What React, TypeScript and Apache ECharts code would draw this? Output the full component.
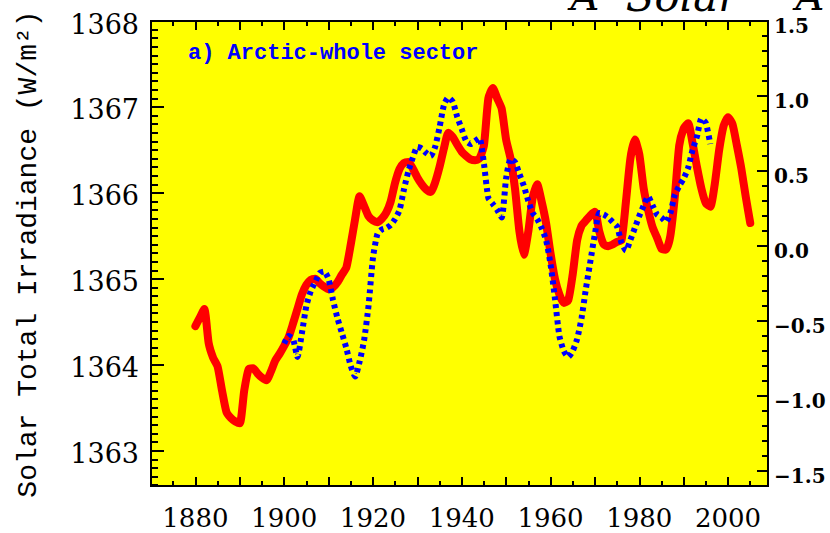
import React, { useEffect, useRef } from "react";
import * as echarts from "echarts";

// ---- axis extents and tick values ----
const X_MIN = 1870;
const X_MAX = 2009;
const LEFT_MIN = 1362.59;
const LEFT_MAX = 1368;
const RIGHT_MIN = -1.6;
const RIGHT_MAX = 1.5;

const xMajorTicks = [1880, 1890, 1900, 1910, 1920, 1930, 1940, 1950, 1960, 1970, 1980, 1990, 2000];
const xLabelValues = [1880, 1900, 1920, 1940, 1960, 1980, 2000];
const xMinorTicks = [1875, 1885, 1895, 1905, 1915, 1925, 1935, 1945, 1955, 1965, 1975, 1985, 1995, 2005];
const leftMajorTicks = [1363, 1364, 1365, 1366, 1367, 1368];
const rightMajorTicks = [-1.5, -1.0, -0.5, 0.0, 0.5, 1.0, 1.5];

function minorSteps(lo: number, hi: number, step: number, skip: number[]): number[] {
  const out: number[] = [];
  const n = Math.round((hi - lo) / step);
  for (let i = 0; i <= n; i++) {
    const v = Math.round((lo + i * step) * 1000) / 1000;
    if (!skip.some((s) => Math.abs(s - v) < 1e-6)) out.push(v);
  }
  return out;
}
const leftMinorTicks = minorSteps(1362.6, 1368, 0.1, leftMajorTicks);
const rightMinorTicks = minorSteps(-1.6, 1.5, 0.1, rightMajorTicks);

// ---- data ----
const redStartYear = 1880;
// Solar total irradiance (W/m^2), annual, 1880-2005
const redValues = [
  1364.45, 1364.55, 1364.65, 1364.25, 1364.08, 1363.98, 1363.70, 1363.45, 1363.38, 1363.34,
  1363.32, 1363.70, 1363.95, 1363.96, 1363.90, 1363.85, 1363.82, 1363.92, 1364.05, 1364.13,
  1364.22, 1364.32, 1364.48, 1364.65, 1364.82, 1364.93, 1364.99, 1365.00, 1364.95, 1364.91,
  1364.88, 1364.90, 1364.96, 1365.05, 1365.13, 1365.40, 1365.70, 1365.96, 1365.85, 1365.73,
  1365.68, 1365.66, 1365.70, 1365.77, 1365.90, 1366.12, 1366.28, 1366.35, 1366.36, 1366.28,
  1366.18, 1366.10, 1366.04, 1366.01, 1366.12, 1366.30, 1366.52, 1366.70, 1366.65, 1366.56,
  1366.48, 1366.43, 1366.39, 1366.38, 1366.40, 1366.55, 1367.10, 1367.22, 1367.10, 1366.98,
  1366.62, 1366.40, 1366.05, 1365.55, 1365.28, 1365.55, 1365.95, 1366.10, 1365.90, 1365.65,
  1365.30, 1365.00, 1364.82, 1364.72, 1364.75, 1365.05, 1365.45, 1365.62, 1365.68, 1365.74,
  1365.78, 1365.55, 1365.40, 1365.38, 1365.40, 1365.43, 1365.45, 1365.90, 1366.40, 1366.62,
  1366.45, 1366.05, 1365.80, 1365.60, 1365.48, 1365.35, 1365.34, 1365.50, 1365.95, 1366.55,
  1366.75, 1366.81, 1366.58, 1366.30, 1366.05, 1365.88, 1365.84, 1366.10, 1366.50, 1366.78,
  1366.88, 1366.80, 1366.55, 1366.28, 1365.95, 1365.65,
];

const blueStartYear = 1900;
// Arctic-whole sector temperature anomaly, 1900-1996
const blueValues = [
  -0.65, -0.60, -0.62, -0.74, -0.58, -0.40, -0.30, -0.24, -0.18, -0.17,
  -0.22, -0.36, -0.48, -0.58, -0.68, -0.80, -0.87, -0.77, -0.63, -0.40,
  -0.08, 0.08, 0.11, 0.12, 0.14, 0.18, 0.24, 0.38, 0.50, 0.59,
  0.66, 0.65, 0.62, 0.60, 0.66, 0.79, 0.94, 0.99, 0.96, 0.86,
  0.78, 0.70, 0.68, 0.70, 0.72, 0.55, 0.32, 0.28, 0.24, 0.19,
  0.45, 0.58, 0.56, 0.48, 0.40, 0.30, 0.22, 0.18, 0.12, 0.04,
  -0.12, -0.35, -0.60, -0.70, -0.74, -0.70, -0.62, -0.48, -0.28, -0.10,
  0.08, 0.22, 0.21, 0.19, 0.16, 0.13, 0.02, -0.03, 0.04, 0.12,
  0.20, 0.27, 0.33, 0.27, 0.21, 0.19, 0.16, 0.22, 0.34, 0.40,
  0.45, 0.52, 0.64, 0.73, 0.85, 0.82, 0.68,
];

const panelTitle = "a) Arctic-whole sector";
const yTitle = "Solar Total Irradiance (W/m²)";
const clippedWords = ["A", "Solar", "A"];

const LABEL_FONT = "DejaVu Serif";

export default function App() {
  const ref = useRef<HTMLDivElement>(null);

  useEffect(() => {
    if (!ref.current) return;
    const chart = echarts.init(ref.current, null, { renderer: "svg" });

    const axisLine = { show: true, onZero: false, lineStyle: { color: "#000", width: 2 } };
    const noLine = { show: false, onZero: false };
    const tick = (length: number, values: number[]) => ({
      show: true,
      inside: true,
      length,
      customValues: values,
      lineStyle: { color: "#000", width: 2 },
    });

    const xBase = (position: "top" | "bottom") => ({
      type: "value" as const,
      position,
      min: X_MIN,
      max: X_MAX,
      splitLine: { show: false },
      gridIndex: 0,
      z: 10,
    });
    const yLeftBase = {
      type: "value" as const,
      position: "left" as const,
      min: LEFT_MIN,
      max: LEFT_MAX,
      splitLine: { show: false },
      z: 10,
    };
    const yRightBase = {
      type: "value" as const,
      position: "right" as const,
      min: RIGHT_MIN,
      max: RIGHT_MAX,
      splitLine: { show: false },
      z: 10,
    };

    const option = {
      animation: false,
      backgroundColor: "#ffffff",
      grid: {
        left: 151,
        right: 62,
        top: 21,
        bottom: 47,
        show: true,
        backgroundColor: "#ffff00",
        borderColor: "#000",
        borderWidth: 2,
      },
      xAxis: [
        {
          ...xBase("bottom"),
          axisLine,
          axisTick: tick(9, xMajorTicks),
          axisLabel: {
            show: true,
            customValues: xLabelValues,
            margin: 19,
            fontFamily: LABEL_FONT,
            fontSize: 26,
            color: "#000",
            formatter: (v: number) => String(v),
          },
        },
        {
          ...xBase("bottom"),
          axisLine: noLine,
          axisTick: tick(5, xMinorTicks),
          axisLabel: { show: false },
        },
        {
          ...xBase("top"),
          axisLine,
          axisTick: tick(9, xMajorTicks),
          axisLabel: { show: false },
        },
        {
          ...xBase("top"),
          axisLine: noLine,
          axisTick: tick(5, xMinorTicks),
          axisLabel: { show: false },
        },
      ],
      yAxis: [
        {
          ...yLeftBase,
          axisLine,
          axisTick: tick(13, leftMajorTicks),
          axisLabel: {
            show: true,
            customValues: leftMajorTicks,
            margin: 12,
            fontFamily: LABEL_FONT,
            fontSize: 27,
            color: "#000",
            verticalAlign: "top",
            lineHeight: 6,
            formatter: (v: number) => String(Math.round(v)),
          },
        },
        {
          ...yLeftBase,
          axisLine: noLine,
          axisTick: tick(7, leftMinorTicks),
          axisLabel: { show: false },
        },
        {
          ...yRightBase,
          axisLine,
          axisTick: tick(11, rightMajorTicks),
          axisLabel: {
            show: true,
            customValues: rightMajorTicks,
            margin: 6,
            fontFamily: LABEL_FONT,
            fontWeight: "bold",
            fontSize: 20,
            color: "#000",
            verticalAlign: "top",
            lineHeight: 9,
            formatter: (v: number) => (v < -1e-9 ? "\u2212" : "") + Math.abs(v).toFixed(1),
          },
        },
        {
          ...yRightBase,
          axisLine: noLine,
          axisTick: tick(6, rightMinorTicks),
          axisLabel: { show: false },
        },
      ],
      series: [
        {
          name: "Solar Total Irradiance",
          type: "line",
          xAxisIndex: 0,
          yAxisIndex: 0,
          showSymbol: false,
          smooth: 0.2,
          lineStyle: { color: "#ff0000", width: 8, cap: "round", join: "round" },
          itemStyle: { color: "#ff0000" },
          data: redValues.map((v, i) => [redStartYear + i, v]),
          z: 3,
        },
        {
          name: "Arctic-whole sector",
          type: "line",
          xAxisIndex: 0,
          yAxisIndex: 2,
          showSymbol: false,
          smooth: 0.2,
          lineStyle: { color: "#0000ff", width: 6, type: [4, 4], cap: "butt" },
          itemStyle: { color: "#0000ff" },
          data: blueValues.map((v, i) => [blueStartYear + i, v]),
          z: 4,
        },
      ],
      graphic: [
        {
          type: "text",
          left: 188,
          top: 42,
          style: {
            text: panelTitle,
            fill: "#0000ff",
            font: "bold 22px 'Liberation Mono'",
          },
          z: 20,
        },
        {
          type: "text",
          x: 28,
          y: 254,
          rotation: Math.PI / 2,
          style: {
            text: yTitle,
            fill: "#000",
            font: "28px 'Liberation Mono'",
            align: "center",
            verticalAlign: "middle",
          },
        },
        {
          type: "text",
          x: 585,
          y: -4,
          style: { text: clippedWords[0], fill: "#000", font: "italic 40px 'DejaVu Serif'", align: "center", verticalAlign: "middle" },
        },
        {
          type: "text",
          x: 682,
          y: -4,
          style: { text: clippedWords[1], fill: "#000", font: "italic 42px 'DejaVu Serif'", align: "center", verticalAlign: "middle" },
        },
        {
          type: "text",
          x: 810,
          y: -4,
          style: { text: clippedWords[2], fill: "#000", font: "italic 40px 'DejaVu Serif'", align: "center", verticalAlign: "middle" },
        },
      ],
    };

    chart.setOption(option as any);
    return () => chart.dispose();
  }, []);

  return (
    <div
      ref={ref}
      style={{ position: "absolute", left: 0, top: 0, width: 830, height: 533, background: "#fff" }}
    />
  );
}
